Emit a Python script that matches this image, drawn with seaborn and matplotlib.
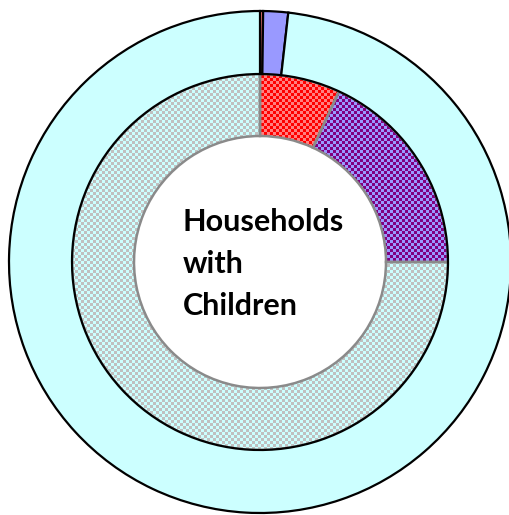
import numpy as np
import matplotlib.pyplot as plt
import seaborn as sns

# outer ring, clockwise from 12 o'clock
outer_labels = ['Group A', 'Group B', 'Other households']
outer_values = [0.2, 1.6, 98.2]
outer_colors = ['#FF8080', '#9999FF', '#CCFFFF']

# inner ring, clockwise from 12 o'clock
inner_labels = ['Type 1', 'Type 2', 'Other']
inner_values = [6.9, 18.1, 75.0]
inner_patterns = [('#FF0000', '#FF8080'), ('#9999FF', '#800080'), ('#CCFFFF', '#C0C0C0')]

center_text = 'Households\nwith\nChildren'

W, H = 510, 515
R = 251.0  # outer radius in pixels
cx, cy = 260, 262  # centre in pixels, from top-left


def checker(c1, c2, cell=3):
    yy, xx = np.mgrid[0:H, 0:W]
    mask = ((yy // cell) + (xx // cell)) % 2 == 0
    a = np.array(sns.color_palette([c1])[0])
    b = np.array(sns.color_palette([c2])[0])
    img = np.where(mask[..., None], a, b)
    return img


sns.set_theme(style='white')
fig = plt.figure(figsize=(W / 100, H / 100), dpi=100)
ax = fig.add_axes([0, 0, 1, 1])
xlim = (-cx / R, (W - cx) / R)
ylim = (-(H - cy) / R, cy / R)

# inner ring
inner_wedges, _ = ax.pie(inner_values, radius=188 / R, startangle=90, counterclock=False,
                         colors=['none'] * 3,
                         wedgeprops=dict(width=62 / R, edgecolor='#8A8A8A', linewidth=1.8))
for w, (c1, c2) in zip(inner_wedges, inner_patterns):
    w.set_zorder(2)
    im = ax.imshow(checker(c1, c2), extent=(xlim[0], xlim[1], ylim[0], ylim[1]),
                   interpolation='nearest', zorder=1, origin='upper')
    im.set_clip_path(w)

# outer ring
outer_wedges, _ = ax.pie(outer_values, radius=1.0, startangle=90, counterclock=False,
                         colors=outer_colors,
                         wedgeprops=dict(width=63 / R, edgecolor='black', linewidth=1.6))
for w in outer_wedges:
    w.set_zorder(3)

ax.text(-0.307, -0.008, center_text, ha='left', va='center', fontsize=22,
        fontweight='bold', family=['Lato', 'DejaVu Sans'], linespacing=1.6,
        color='black', zorder=4)

ax.set_xlim(*xlim)
ax.set_ylim(*ylim)
ax.set_aspect('equal')
ax.axis('off')
fig.savefig('out.png', dpi=100, facecolor='white')
